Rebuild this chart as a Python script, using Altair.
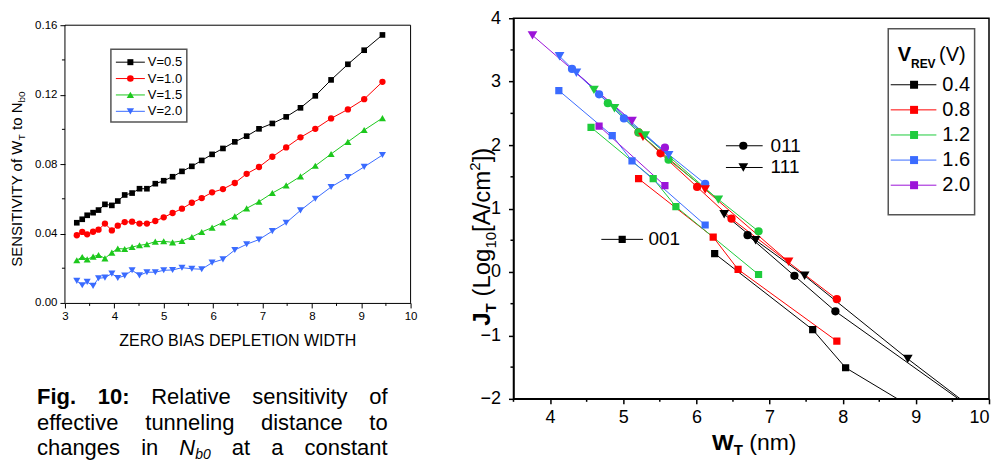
import altair as alt
import pandas as pd

FONT = "Liberation Sans"

# ---------------- Left chart data ----------------
left_w = [3.24, 3.35, 3.45, 3.57, 3.68, 3.81, 3.95, 4.07, 4.21, 4.36, 4.51, 4.66, 4.83, 5.00, 5.18, 5.37,
          5.57, 5.77, 5.98, 6.20, 6.44, 6.68, 6.93, 7.20, 7.48, 7.77, 8.07, 8.39, 8.73, 9.06, 9.43]
sens_v05 = [0.0462, 0.0482, 0.0505, 0.0520, 0.0535, 0.0568, 0.0562, 0.0587, 0.0622, 0.0633, 0.0658, 0.0658,
            0.0687, 0.0704, 0.0727, 0.0758, 0.0787, 0.0821, 0.0856, 0.0890, 0.0928, 0.0961, 0.1003, 0.1034,
            0.1072, 0.1124, 0.1193, 0.1285, 0.1375, 0.1456, 0.1544]
sens_v10 = [0.0390, 0.0409, 0.0395, 0.0410, 0.0422, 0.0457, 0.0418, 0.0445, 0.0466, 0.0468, 0.0457, 0.0457,
            0.0472, 0.0493, 0.0518, 0.0543, 0.0577, 0.0604, 0.0637, 0.0656, 0.0691, 0.0744, 0.0783, 0.0842,
            0.0896, 0.0954, 0.1003, 0.1063, 0.1115, 0.1174, 0.1274]
sens_v15 = [0.0246, 0.0265, 0.0251, 0.0267, 0.0276, 0.0257, 0.0290, 0.0313, 0.0311, 0.0322, 0.0332, 0.0338,
            0.0353, 0.0355, 0.0349, 0.0357, 0.0380, 0.0409, 0.0434, 0.0464, 0.0499, 0.0545, 0.0583, 0.0633,
            0.0677, 0.0729, 0.0790, 0.0858, 0.0928, 0.0996, 0.1065]
sens_v20 = [0.0127, 0.0102, 0.0121, 0.0098, 0.0142, 0.0146, 0.0169, 0.0144, 0.0157, 0.0188, 0.0159, 0.0177,
            0.0177, 0.0188, 0.0190, 0.0203, 0.0197, 0.0194, 0.0232, 0.0251, 0.0305, 0.0338, 0.0365, 0.0414,
            0.0462, 0.0533, 0.0600, 0.0668, 0.0725, 0.0784, 0.0852]
left_labels = ["V=0.5", "V=1.0", "V=1.5", "V=2.0"]
left_colors = ["#000000", "#FF0000", "#1DC81D", "#3A6BFF"]
left_shapes = ["square", "circle", "triangle-up", "triangle-down"]
left_sizes = [32, 40, 50, 50]
left_xticks = [3, 4, 5, 6, 7, 8, 9, 10]
left_xminor = [3.5, 4.5, 5.5, 6.5, 7.5, 8.5, 9.5]
left_yticks = [0.0, 0.04, 0.08, 0.12, 0.16]
left_yminor = [0.02, 0.06, 0.10, 0.14]

# ---------------- Right chart data ----------------
v_labels = ["0.4", "0.8", "1.2", "1.6", "2.0"]
v_keys = ["V0.4", "V0.8", "V1.2", "V1.6", "V2.0"]
v_colors = ["#000000", "#FF0000", "#1ECB3C", "#3A6BFF", "#9C14D8"]
orients = ["001", "011", "111"]
orient_shapes = {"001": "square", "011": "circle", "111": "triangle-down"}
orient_sizes = {"001": 52, "011": 68, "111": 95}

w_04_001 = [6.25, 7.59, 8.04, 9.50]
j_04_001 = [0.29, -0.91, -1.51, -2.52]
w_04_011 = [6.70, 7.34, 7.90, 9.80]
j_04_011 = [0.58, -0.06, -0.62, -2.18]
w_04_111 = [6.38, 6.81, 7.48, 8.89, 9.80]
j_04_111 = [0.91, 0.50, -0.06, -1.37, -2.17]

w_08_001 = [5.21, 6.23, 6.57, 7.92]
j_08_001 = [1.47, 0.55, 0.04, -1.09]
w_08_011 = [5.21, 5.51, 6.01, 6.48, 7.92]
j_08_011 = [2.20, 1.87, 1.34, 0.84, -0.43]
w_08_111 = [5.27, 6.12, 7.26]
j_08_111 = [2.13, 1.30, 0.16]

w_12_001 = [4.56, 5.41, 5.72, 6.85]
j_12_001 = [2.28, 1.47, 1.03, -0.04]
w_12_011 = [4.79, 5.21, 5.62, 6.85]
j_12_011 = [2.66, 2.20, 1.77, 0.64]
w_12_111 = [4.60, 4.88, 5.30, 6.30]
j_12_111 = [2.87, 2.58, 2.15, 1.14]

w_16_001 = [4.12, 4.85, 5.12, 6.12]
j_16_001 = [2.86, 2.15, 1.75, 0.74]
w_16_011 = [4.30, 4.67, 5.01, 6.12]
j_16_011 = [3.20, 2.80, 2.42, 1.39]
w_16_111 = [4.13, 4.36, 5.62]
j_16_111 = [3.40, 3.14, 1.84]

w_20_001 = [4.67, 5.57]
j_20_001 = [2.30, 1.36]
w_20_011 = [5.57]
j_20_011 = [1.96]
w_20_111 = [3.76, 5.12]
j_20_111 = [3.73, 2.38]

right_xticks = [4, 5, 6, 7, 8, 9, 10]
right_xminor = [3.5, 4.5, 5.5, 6.5, 7.5, 8.5, 9.5]
right_yticks = [-2, -1, 0, 1, 2, 3, 4]
right_yminor = [-1.5, -0.5, 0.5, 1.5, 2.5, 3.5]

# ---------------- text metrics helpers (Arial-like) ----------------
W_REG = {' ': 278, '(': 333, ')': 333, '[': 278, ']': 278, '/': 278, '.': 278, ':': 278, '=': 584,
         'A': 667, 'B': 667, 'D': 722, 'E': 667, 'F': 611, 'H': 722, 'I': 278, 'J': 500, 'L': 556,
         'N': 722, 'O': 778, 'P': 667, 'R': 722, 'S': 667, 'T': 611, 'V': 667, 'W': 944, 'Y': 667,
         'Z': 611, 'a': 556, 'b': 556, 'c': 500, 'd': 556, 'e': 556, 'f': 278, 'g': 556, 'h': 556,
         'i': 222, 'l': 222, 'm': 833, 'n': 556, 'o': 556, 'r': 333, 's': 500, 't': 278, 'u': 556,
         'v': 500, 'y': 500}
W_BOLD = {' ': 278, 'F': 611, 'i': 278, 'g': 611, '.': 278, ':': 333, 'J': 556, 'T': 611, 'W': 944,
          'V': 667, 'R': 722, 'E': 667}


def tw(s, size, bold=False):
    tab = W_BOLD if bold else W_REG
    return sum(tab.get(c, 556) for c in s) * size / 1000.0


def txt(s, x, y, size, bold=False, italic=False, angle=0, align="left", baseline="alphabetic"):
    return alt.Chart(alt.Data(values=[{}])).mark_text(
        text=s, fontSize=size, font=FONT, color="black",
        fontWeight="bold" if bold else "normal", fontStyle="italic" if italic else "normal",
        angle=angle, align=align, baseline=baseline,
    ).encode(x=alt.value(x), y=alt.value(y))


def split_lead(s):
    body = s.lstrip(" ")
    return s[:len(s) - len(body)], body


def hpieces(pieces, x0, y0):
    out, x = [], x0
    for s, size, bold, italic, dy in pieces:
        lead, body = split_lead(s)
        x += tw(lead, size, bold)
        if body:
            out.append(txt(body, x, y0 + dy, size, bold, italic))
        x += tw(body, size, bold)
    return out


def vpieces(pieces, xb, ycenter):
    total = sum(tw(s, size, bold) for s, size, bold, dx in pieces)
    out, y = [], ycenter + total / 2
    for s, size, bold, dx in pieces:
        lead, body = split_lead(s)
        y -= tw(lead, size, bold)
        if body:
            out.append(txt(body, xb + dx, y, size, bold, angle=270))
        y -= tw(body, size, bold)
    return out


def hrule(x1, x2, y, color="black", width=1.0, opacity=1.0):
    return alt.Chart(alt.Data(values=[{}])).mark_rule(
        color=color, strokeWidth=width, opacity=opacity
    ).encode(x=alt.value(x1), x2=alt.value(x2), y=alt.value(y))


def sym(x, y, shape, color, size):
    return alt.Chart(alt.Data(values=[{}])).mark_point(
        shape=shape, filled=True, color=color, size=size, opacity=1
    ).encode(x=alt.value(x), y=alt.value(y))


def box(x1, y1, x2, y2, color, width):
    return alt.Chart(alt.Data(values=[{}])).mark_rect(
        fill=None, stroke=color, strokeWidth=width
    ).encode(x=alt.value(x1), x2=alt.value(x2), y=alt.value(y1), y2=alt.value(y2))


# ================= LEFT CHART =================
# plot area is 7px taller than the data frame so that its frame sits lower than the right panel's
LW, LH = 346, 285
TOPPAD = 7
rows = []
for lab, vals in zip(left_labels, [sens_v05, sens_v10, sens_v15, sens_v20]):
    for w, s in zip(left_w, vals):
        rows.append({"series": lab, "w": w, "s": s})
ldf = pd.DataFrame(rows)

ytop = left_yticks[-1] * LH / (LH - TOPPAD)
lx_scale = alt.Scale(domain=[left_xticks[0], left_xticks[-1]], nice=False, zero=False)
ly_scale = alt.Scale(domain=[0, ytop], nice=False, zero=False)
lx_axis = alt.Axis(
    values=left_xticks, format="d", title=None, grid=False, tickSize=5, tickColor="black",
    domainColor="black", labelColor="black", labelFont=FONT, labelFontSize=11.5, labelPadding=3,
    labelFlush=False, labelOverlap=False)
ly_axis = alt.Axis(
    values=left_yticks, format=".2f", title=None, grid=False, tickSize=5, tickColor="black",
    domain=False, labelColor="black", labelFont=FONT, labelFontSize=11.5, labelPadding=3,
    labelFlush=False, labelOverlap=False)


def LX(f):
    return alt.X(f, scale=lx_scale, axis=lx_axis)


def LY(f):
    return alt.Y(f, scale=ly_scale, axis=ly_axis)


lcolor = alt.Color("series:N", scale=alt.Scale(domain=left_labels, range=left_colors), legend=None)

frame = pd.DataFrame({
    "x1": [left_xticks[0], left_xticks[0], left_xticks[-1]],
    "x2": [left_xticks[-1], left_xticks[0], left_xticks[-1]],
    "y1": [left_yticks[-1], left_yticks[0], left_yticks[0]],
    "y2": [left_yticks[-1], left_yticks[-1], left_yticks[-1]],
})
left_layers = [
    alt.Chart(frame).mark_rule(color="black", strokeWidth=1).encode(
        LX("x1:Q"), x2="x2:Q", y=LY("y1:Q"), y2="y2:Q"),
    alt.Chart(ldf).mark_line(strokeWidth=1).encode(LX("w:Q"), LY("s:Q"), lcolor, detail="series:N"),
]
for lab, shp, sz in zip(left_labels, left_shapes, left_sizes):
    left_layers.append(
        alt.Chart(ldf).transform_filter(alt.datum.series == lab)
        .mark_point(shape=shp, filled=True, size=sz, opacity=1).encode(LX("w:Q"), LY("s:Q"), lcolor))

# minor ticks
left_layers.append(alt.Chart(pd.DataFrame({"m": left_xminor})).mark_rule(color="black", strokeWidth=1)
                   .encode(x=LX("m:Q"), y=alt.value(LH), y2=alt.value(LH + 3)))
left_layers.append(alt.Chart(pd.DataFrame({"m": left_yminor})).mark_rule(color="black", strokeWidth=1)
                   .encode(y=LY("m:Q"), x=alt.value(0), x2=alt.value(-3)))

# legend
left_layers.append(box(46, 31, 122, 104, "#555555", 1.5))
for i, (lab, col, shp, sz) in enumerate(zip(left_labels, left_colors, left_shapes, left_sizes)):
    yy = 44 + 16.4 * i
    left_layers.append(hrule(51, 80, yy, col, 1))
    left_layers.append(sym(65.5, yy, shp, col, sz + 4))
    left_layers.append(txt(lab, 83, yy, 13, baseline="middle"))

# axis titles
left_layers.append(txt("ZERO BIAS DEPLETION WIDTH", LW / 2, 328, 16, align="center"))
left_layers += vpieces([("SENSITIVITY of W", 15, False, 0), ("T", 10, False, 3),
                        (" to N", 15, False, 0), ("b0", 10, False, 3)], -42.5, 161)

# caption (justified, 3 lines)
CAP = 22
cap_left, cap_right = -28, 323
cap_lines = [
    (386, [[("Fig.", CAP, True, False, 0)], [("10:", CAP, True, False, 0)], [("Relative", CAP, False, False, 0)],
           [("sensitivity", CAP, False, False, 0)], [("of", CAP, False, False, 0)]]),
    (412, [[("effective", CAP, False, False, 0)], [("tunneling", CAP, False, False, 0)],
           [("distance", CAP, False, False, 0)], [("to", CAP, False, False, 0)]]),
    (437, [[("changes", CAP, False, False, 0)], [("in", CAP, False, False, 0)],
           [("N", CAP, False, True, 0), ("b0", 14, False, True, 4)], [("at", CAP, False, False, 0)],
           [("a", CAP, False, False, 0)], [("constant", CAP, False, False, 0)]]),
]
for yb, words in cap_lines:
    widths = [sum(tw(s, sz, b) for s, sz, b, it, dy in wd) for wd in words]
    gap = (cap_right - cap_left - sum(widths)) / (len(words) - 1)
    x = cap_left
    for wd, wdt in zip(words, widths):
        left_layers += hpieces(wd, x, yb)
        x += wdt + gap

# invisible layout anchors
left_layers.append(hrule(-57, -56, 20, opacity=0))
left_layers.append(hrule(359, 360, 20, opacity=0))

left = alt.layer(*left_layers).properties(
    width=LW, height=LH, view=alt.ViewBackground(stroke=None, strokeOpacity=0))

# ================= RIGHT CHART =================
RW, RH = 476, 381
K = RH / 385.0   # vertical compression relative to the reference's pixel grid
KX = RW / 479.0  # horizontal compression
series = {
    ("V0.4", "001"): (w_04_001, j_04_001), ("V0.4", "011"): (w_04_011, j_04_011), ("V0.4", "111"): (w_04_111, j_04_111),
    ("V0.8", "001"): (w_08_001, j_08_001), ("V0.8", "011"): (w_08_011, j_08_011), ("V0.8", "111"): (w_08_111, j_08_111),
    ("V1.2", "001"): (w_12_001, j_12_001), ("V1.2", "011"): (w_12_011, j_12_011), ("V1.2", "111"): (w_12_111, j_12_111),
    ("V1.6", "001"): (w_16_001, j_16_001), ("V1.6", "011"): (w_16_011, j_16_011), ("V1.6", "111"): (w_16_111, j_16_111),
    ("V2.0", "001"): (w_20_001, j_20_001), ("V2.0", "011"): (w_20_011, j_20_011), ("V2.0", "111"): (w_20_111, j_20_111),
}
rows = []
for (v, o), (ws, js) in series.items():
    for w, j in zip(ws, js):
        rows.append({"V": v, "orient": "o" + o, "sid": v + "_" + o, "w": w, "j": j})
rdf = pd.DataFrame(rows)

rx_scale = alt.Scale(domain=[3.5, 10], nice=False, zero=False)
ry_scale = alt.Scale(domain=[-2, 4], nice=False, zero=False)
rx_axis = alt.Axis(
    values=right_xticks, format="d", title=None, grid=False, tickSize=5, tickWidth=1.5, domainWidth=1.5,
    tickColor="black", domainColor="black", labelColor="black", labelFont=FONT, labelFontSize=18,
    labelPadding=5, labelFlush=True, labelFlushOffset=0, labelOverlap=False)
ry_axis = alt.Axis(
    values=right_yticks, format="d", title=None, grid=False, tickSize=5, tickWidth=1.5, domainWidth=1.5,
    tickColor="black", domainColor="black", labelColor="black", labelFont=FONT, labelFontSize=18,
    labelPadding=8, labelFlush=False, labelOverlap=False)


def RX(f):
    return alt.X(f, scale=rx_scale, axis=rx_axis)


def RY(f):
    return alt.Y(f, scale=ry_scale, axis=ry_axis)


rcolor = alt.Color("V:N", scale=alt.Scale(domain=v_keys, range=v_colors), legend=None)

right_layers = [
    alt.Chart(rdf).mark_line(strokeWidth=1, clip=True).encode(RX("w:Q"), RY("j:Q"), rcolor, detail="sid:N"),
]
for o in orients:
    right_layers.append(
        alt.Chart(rdf).transform_filter(alt.datum.orient == "o" + o)
        .mark_point(shape=orient_shapes[o], filled=True, size=orient_sizes[o], opacity=1, clip=True)
        .encode(RX("w:Q"), RY("j:Q"), rcolor))

right_layers.append(alt.Chart(pd.DataFrame({"m": right_xminor})).mark_rule(color="black", strokeWidth=1.5)
                    .encode(x=RX("m:Q"), y=alt.value(RH), y2=alt.value(RH + 3)))
right_layers.append(alt.Chart(pd.DataFrame({"m": right_yminor})).mark_rule(color="black", strokeWidth=1.5)
                    .encode(y=RY("m:Q"), x=alt.value(0), x2=alt.value(-3)))

# orientation keys
for o, (x1, x2, xm, yy, xt) in {"011": (214, 251, 231.5, 129, 259),
                                "111": (214, 251, 231.5, 151, 259),
                                "001": (88.5, 130.5, 109.5, 223.7, 136)}.items():
    right_layers.append(hrule(x1 * KX, x2 * KX, yy * K, "black", 1))
    right_layers.append(sym(xm * KX, yy * K, orient_shapes[o], "black", orient_sizes[o]))
    right_layers.append(txt(o, xt * KX, yy * K, 19, baseline="middle"))

# V legend
right_layers.append(box(377.5 * KX, 10.7 * K, 464.5 * KX, 198.7 * K, "#555555", 1.5))
right_layers += hpieces([("V", 20, True, False, 0), ("REV", 12, True, False, 7),
                         (" ", 12, False, False, 0), ("(V)", 20, False, False, 0)], 387 * KX, 43 * K)
for i, (lab, col) in enumerate(zip(v_labels, v_colors)):
    yy = (67.3 + 25.4 * i) * K
    right_layers.append(hrule(380 * KX, 426 * KX, yy, col, 1))
    right_layers.append(sym(403.5 * KX, yy, "square", col, 64))
    right_layers.append(txt(lab, 432 * KX, yy, 20, baseline="middle"))

# axis titles
right_layers += hpieces([("W", 23, True, False, 0), ("T", 15, True, False, 5), (" (nm)", 23, False, False, 0)],
                        200 * KX, 432)
right_layers += vpieces([("J", 24, True, 0), ("T", 15, True, 6), (" (Log", 24, False, 0), ("10", 15, False, 6),
                         ("[A/cm", 24, False, 0), ("2", 15, False, -10), ("])", 24, False, 0)], -24, 218.7)

right_layers.append(hrule(-49, -48, -9, opacity=0))

right = alt.layer(*right_layers).properties(
    width=RW, height=RH, view=alt.ViewBackground(stroke="black", strokeWidth=1.5))

chart = alt.hconcat(left, right, spacing=39).resolve_scale(
    color="independent", x="independent", y="independent"
).configure(padding={"top": 0, "left": 0, "right": 0, "bottom": 0})

chart.save("out.html", embed_options={"renderer": "svg", "actions": False})
